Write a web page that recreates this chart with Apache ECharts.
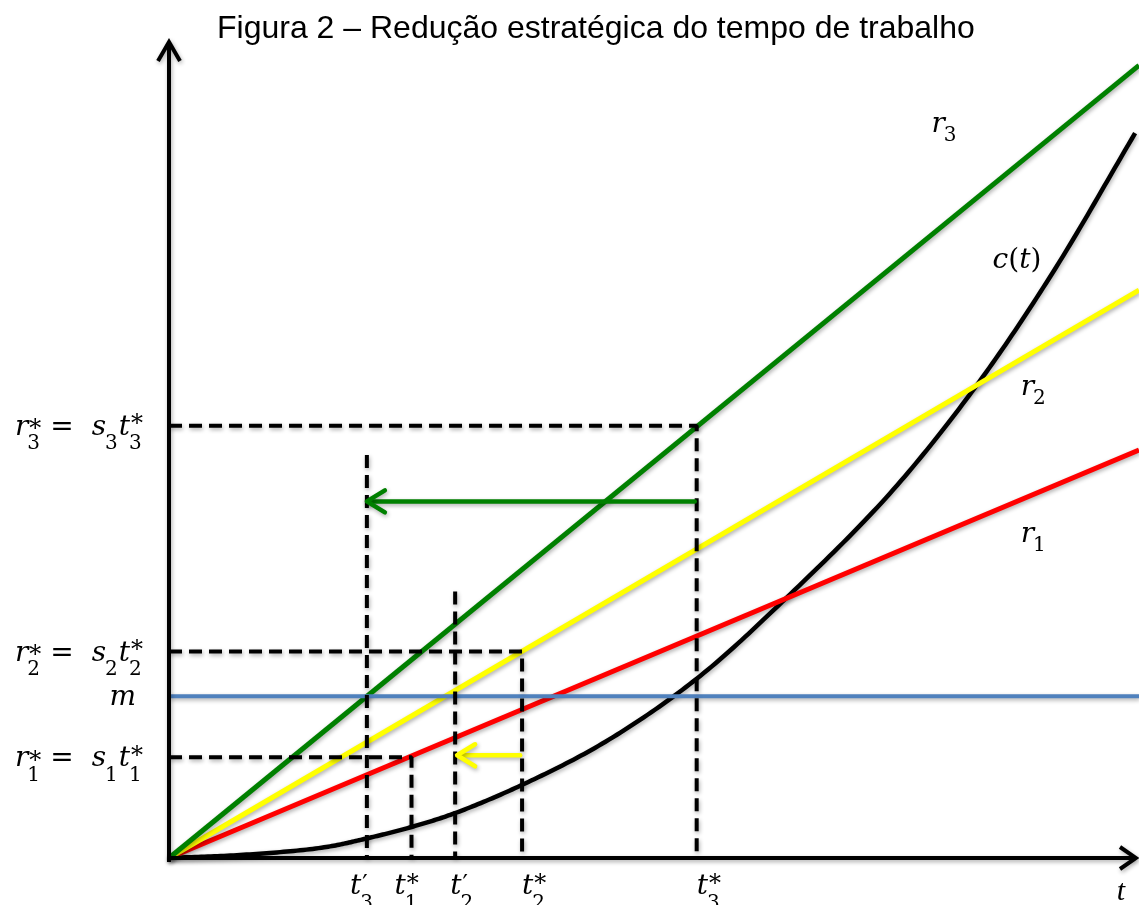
<!DOCTYPE html>
<html>
<head>
<meta charset="utf-8">
<title>Redução estratégica do tempo de trabalho</title>
<script src="https://cdn.jsdelivr.net/npm/echarts@6.0.0/dist/echarts.min.js"></script>
<style>
  html, body { margin: 0; padding: 0; background: #ffffff; }
  #chart { width: 1139px; height: 905px; }
</style>
</head>
<body>
<div id="chart"></div>
<script>
// ---------------------------------------------------------------------------
// Data: time t on the horizontal axis, value on the vertical axis
// ---------------------------------------------------------------------------
const T_MAX = 100;
const V_MAX = 83.9;

// revenue lines r_i = s_i t, value reached at t = T_MAX (r1, r2, r3)
const revenueEnd = [42.1, 58.6, 81.8];

// cost curve c(t)
const costT = [0, 8.0, 16.0, 20.3, 25.0, 29.4, 36.3, 45.0, 54.4, 63.6, 74.3, 83.2, 91.1, 99.6];
const costV = [0, 0.35, 1.1, 2.0, 3.2, 4.6, 7.5, 12.0, 18.5, 26.8, 37.6, 48.7, 60.4, 74.8];

// level m
const mLevel = 16.7;

// optimal times t*_i and revenues r*_i = s_i t*_i  (i = 1, 2, 3)
const tStar = [25.0, 36.4, 54.4];
const rStar = [10.4, 21.3, 44.6];

// reduced times t'_3, t'_2 and the top of their dashed guides
const tPrime = [20.4, 29.5];
const tPrimeTop = [41.6, 27.5];

// reduction arrows (green: t*_3 -> t'_3, yellow: t*_2 -> t'_2)
const arrowFrom = [54.2, 36.2];
const arrowTo = [20.4, 29.7];
const arrowLevel = [36.8, 10.6];

// ---------------------------------------------------------------------------
// Texts (math notation: _x subscript, ^x superscript)
// ---------------------------------------------------------------------------
const titleText = 'Figura 2 – Redução estratégica do tempo de trabalho';
const yLabels = ['r_3^* =  s_3t_3^*', 'r_2^* =  s_2t_2^*', 'm', 'r_1^* =  s_1t_1^*'];
const yLabelAt = [rStar[2], rStar[1], mLevel, rStar[0]];
const xLabels = ['t_3^′', 't_1^*', 't_2^′', 't_2^*', 't_3^*'];
const xLabelAt = [tPrime[0], tStar[0], tPrime[1], tStar[1], tStar[2]];
const curveLabels = ['r_3', 'c(t)', 'r_2', 'r_1'];
const axisTitleT = 't';

// ---------------------------------------------------------------------------
// Layout and style
// ---------------------------------------------------------------------------
const GREEN = '#008000', YELLOW = '#FFFF00', RED = '#FF0000', BLUE = '#4F81BD', BLACK = '#000000';
const SHADOW = { shadowColor: 'rgba(0,0,0,0.32)', shadowBlur: 4, shadowOffsetX: 1, shadowOffsetY: 2 };
const MATH_FAMILY = '"DejaVu Serif"';
const MATH_SIZE = 28;
const xLabelNudge = [-17, -17, -5, 0, 0];          // px, left edge relative to the guide
const curveLabelPos = [[78.6, 74.9], [84.9, 60.9], [87.8, 47.8], [87.8, 32.6]]; // label baselines

// --- text measuring for the math labels ---
const measureCtx = document.createElement('canvas').getContext('2d');
const baselineCache = {};
function fontString(size, italic, family) {
  return (italic ? 'italic ' : '') + size + 'px ' + family;
}
function measure(text, size, italic, family) {
  measureCtx.font = fontString(size, italic, family);
  measureCtx.textBaseline = 'alphabetic';
  return measureCtx.measureText(text);
}
// distance from the 'middle' baseline (used by zrender) down to the alphabetic one
function middleToAlphabetic(size, italic, family) {
  const key = fontString(size, italic, family);
  if (baselineCache[key] == null) {
    measureCtx.font = key;
    measureCtx.textBaseline = 'middle';
    const a = measureCtx.measureText('H').actualBoundingBoxDescent;
    measureCtx.textBaseline = 'alphabetic';
    const b = measureCtx.measureText('H').actualBoundingBoxDescent;
    baselineCache[key] = a - b;
  }
  return baselineCache[key];
}
function textEl(text, size, italic, family, x, baselineY) {
  return {
    type: 'text',
    x: x,
    y: baselineY - middleToAlphabetic(size, italic, family),
    silent: true,
    style: {
      text: text,
      fontSize: size,
      fontStyle: italic ? 'italic' : 'normal',
      fontFamily: family.replace(/"/g, ''),
      fill: BLACK,
      align: 'left',
      verticalAlign: 'middle'
    }
  };
}
function parseMath(src) {
  const atoms = [];
  for (let i = 0; i < src.length; i++) {
    const ch = src[i];
    if (ch === '_' || ch === '^') {
      atoms[atoms.length - 1][ch === '_' ? 'sub' : 'sup'] = src[++i];
    } else if (ch === ' ') {
      atoms.push({ gap: true });
    } else {
      atoms.push({ base: ch, italic: /[a-z]/.test(ch) });
    }
  }
  return atoms;
}
// builds a group of text pieces; (ax, baseY) is the anchor on the main baseline
function mathGroup(src, ax, baseY, align, opt) {
  opt = opt || {};
  const size = opt.size || MATH_SIZE;
  const family = opt.family || MATH_FAMILY;
  const subDrop = opt.subDrop != null ? opt.subDrop : size * 0.52;
  const scriptSize = Math.round(size * 0.72);
  const supSize = Math.round(size * 0.86);
  const pieces = [];
  let x = 0;
  parseMath(src).forEach(function (a) {
    if (a.gap) { x += size * 0.32; return; }
    const mb = measure(a.base, size, a.italic, family);
    pieces.push({ text: a.base, size: size, italic: a.italic, x: x, base: 0 });
    let sw = 0;
    if (a.sub) {
      const ms = measure(a.sub, scriptSize, false, family);
      pieces.push({ text: a.sub, size: scriptSize, italic: false, x: x + mb.width - (a.italic ? 1 : 0), base: subDrop });
      sw = Math.max(sw, ms.width);
    }
    if (a.sup) {
      const mp = measure(a.sup, supSize, false, family);
      // superscript centred a little below the top of its base glyph
      const centre = -mb.actualBoundingBoxAscent + (a.sup === '*' ? 4.5 : 2);
      const glyphMid = (mp.actualBoundingBoxDescent - mp.actualBoundingBoxAscent) / 2;
      const gx = x + mb.width + (a.italic ? 1 : 0) - (mp.actualBoundingBoxLeft > 0 ? 0 : -mp.actualBoundingBoxLeft);
      pieces.push({ text: a.sup, size: supSize, italic: false, x: gx, base: centre - glyphMid });
      sw = Math.max(sw, mp.actualBoundingBoxRight + (a.italic ? 1 : 0));
    }
    x += mb.width + sw;
  });
  const width = x;
  const x0 = align === 'right' ? ax - width : (align === 'center' ? ax - width / 2 : ax);
  return {
    type: 'group',
    silent: true,
    children: pieces.map(function (p) {
      return textEl(p.text, p.size, p.italic, family, x0 + p.x, baseY + p.base);
    })
  };
}

// centripetal Catmull-Rom spline through pixel points
function catmullRom(pts, steps) {
  const out = [pts[0]];
  const P = [pts[0]].concat(pts, [pts[pts.length - 1]]);
  P[0] = [2 * pts[0][0] - pts[1][0], 2 * pts[0][1] - pts[1][1]];
  const n = pts.length;
  P[n + 1] = [2 * pts[n - 1][0] - pts[n - 2][0], 2 * pts[n - 1][1] - pts[n - 2][1]];
  function tj(ti, a, b) { return ti + Math.pow(Math.hypot(b[0] - a[0], b[1] - a[1]), 0.5); }
  for (let i = 1; i < n; i++) {
    const p0 = P[i - 1], p1 = P[i], p2 = P[i + 1], p3 = P[i + 2];
    const t0 = 0, t1 = tj(t0, p0, p1), t2 = tj(t1, p1, p2), t3 = tj(t2, p2, p3);
    for (let s = 1; s <= steps; s++) {
      const t = t1 + (t2 - t1) * s / steps;
      const pt = [0, 1].map(function (k) {
        const a1 = (t1 - t) / (t1 - t0) * p0[k] + (t - t0) / (t1 - t0) * p1[k];
        const a2 = (t2 - t) / (t2 - t1) * p1[k] + (t - t1) / (t2 - t1) * p2[k];
        const a3 = (t3 - t) / (t3 - t2) * p2[k] + (t - t2) / (t3 - t2) * p3[k];
        const b1 = (t2 - t) / (t2 - t0) * a1 + (t - t0) / (t2 - t0) * a2;
        const b2 = (t3 - t) / (t3 - t1) * a2 + (t - t1) / (t3 - t1) * a3;
        return (t2 - t) / (t2 - t1) * b1 + (t - t1) / (t2 - t1) * b2;
      });
      out.push(pt);
    }
  }
  return out;
}

// --- series ---
const series = [];

// cost curve c(t), drawn as a spline through the points
series.push({
  type: 'custom',
  coordinateSystem: 'cartesian2d',
  clip: false,
  silent: true,
  z: 2,
  data: [[0, 0]],
  renderItem: function (params, api) {
    const pts = costT.map(function (t, i) { return api.coord([t, costV[i]]); });
    return {
      type: 'polyline',
      shape: { points: catmullRom(pts, 24) },
      style: Object.assign({ stroke: BLACK, lineWidth: 4.5, fill: null, lineJoin: 'round' }, SHADOW)
    };
  }
});

// revenue lines r1, r2, r3
[RED, YELLOW, GREEN].forEach(function (c, i) {
  series.push({
    type: 'line',
    data: [[0, 0], [T_MAX, revenueEnd[i]]],
    symbol: 'none',
    clip: false,
    silent: true,
    z: 3,
    lineStyle: Object.assign({ color: c, width: 5 }, SHADOW)
  });
});

// level m
series.push({
  type: 'line',
  data: [[0, mLevel], [T_MAX, mLevel]],
  symbol: 'none',
  clip: false,
  silent: true,
  z: 4,
  lineStyle: Object.assign({ color: BLUE, width: 4 }, SHADOW)
});

// dashed guides r*_i -> t*_i
tStar.forEach(function (t, i) {
  series.push({
    type: 'line',
    data: [[0, rStar[i]], [t, rStar[i]], [t, 0]],
    symbol: 'none',
    clip: false,
    silent: true,
    z: 5,
    lineStyle: Object.assign({ color: BLACK, width: 4, type: [13, 7] }, SHADOW)
  });
});
// dashed guides at t'_3, t'_2
tPrime.forEach(function (t, i) {
  series.push({
    type: 'line',
    data: [[t, tPrimeTop[i]], [t, 0]],
    symbol: 'none',
    clip: false,
    silent: true,
    z: 5,
    lineStyle: Object.assign({ color: BLACK, width: 4, type: [13, 7] }, SHADOW)
  });
});

// reduction arrows
series.push({
  type: 'custom',
  coordinateSystem: 'cartesian2d',
  clip: false,
  silent: true,
  z: 6,
  data: arrowFrom.map(function (f, i) { return [f, arrowLevel[i], arrowTo[i], i]; }),
  renderItem: function (params, api) {
    const from = api.coord([api.value(0), api.value(1)]);
    const tip = api.coord([api.value(2), api.value(1)]);
    const color = [GREEN, YELLOW][api.value(3)];
    const dir = tip[0] < from[0] ? 1 : -1;
    const back = 18, half = 11;
    const st = Object.assign({ stroke: color, lineWidth: 4.5, fill: null, lineCap: 'round', lineJoin: 'round' }, SHADOW);
    return {
      type: 'group',
      children: [
        { type: 'line', shape: { x1: from[0], y1: from[1], x2: tip[0] + dir * 2, y2: tip[1] }, style: st },
        { type: 'polyline', shape: { points: [[tip[0] + dir * back, tip[1] - half], [tip[0], tip[1]], [tip[0] + dir * back, tip[1] + half]] }, style: st }
      ]
    };
  }
});

// axes with open arrow heads
series.push({
  type: 'custom',
  coordinateSystem: 'cartesian2d',
  clip: false,
  silent: true,
  z: 7,
  data: [[0, 0]],
  renderItem: function (params, api) {
    const o = api.coord([0, 0]);
    const xe = api.coord([T_MAX, 0]);
    const ye = api.coord([0, V_MAX]);
    const st = Object.assign({ stroke: BLACK, lineWidth: 4, fill: null, lineCap: 'butt', lineJoin: 'miter' }, SHADOW);
    const xTip = xe[0] - 3, yTip = ye[1] - 3;
    return {
      type: 'group',
      children: [
        { type: 'line', shape: { x1: o[0] - 2, y1: o[1], x2: xTip - 2, y2: o[1] }, style: st },
        { type: 'polyline', shape: { points: [[xTip - 16, o[1] - 11], [xTip, o[1]], [xTip - 16, o[1] + 11]] }, style: st },
        { type: 'line', shape: { x1: o[0], y1: o[1] + 4, x2: o[0], y2: yTip + 2 }, style: st },
        { type: 'polyline', shape: { points: [[o[0] - 11, yTip + 19], [o[0], yTip], [o[0] + 11, yTip + 19]] }, style: st }
      ]
    };
  }
});

// value labels on the vertical axis
series.push({
  type: 'custom',
  coordinateSystem: 'cartesian2d',
  clip: false,
  silent: true,
  z: 8,
  data: yLabelAt.map(function (v) { return [0, v]; }),
  renderItem: function (params, api) {
    const p = api.coord([0, api.value(1)]);
    const right = params.dataIndex === 2 ? p[0] - 33 : p[0] - 26;
    return mathGroup(yLabels[params.dataIndex], right, p[1] + 9, 'right');
  }
});

// time labels on the horizontal axis
series.push({
  type: 'custom',
  coordinateSystem: 'cartesian2d',
  clip: false,
  silent: true,
  z: 8,
  data: xLabelAt.map(function (t) { return [t, 0]; }),
  renderItem: function (params, api) {
    const p = api.coord([api.value(0), 0]);
    return mathGroup(xLabels[params.dataIndex], p[0] + xLabelNudge[params.dataIndex], p[1] + 36, 'left');
  }
});

// curve names and the axis name t
series.push({
  type: 'custom',
  coordinateSystem: 'cartesian2d',
  clip: false,
  silent: true,
  z: 8,
  data: curveLabelPos.concat([[97.7, -4.3]]),
  renderItem: function (params, api) {
    const p = api.coord([api.value(0), api.value(1)]);
    if (params.dataIndex < curveLabels.length) {
      return mathGroup(curveLabels[params.dataIndex], p[0], p[1], 'left', { subDrop: 9 });
    }
    return mathGroup(axisTitleT, p[0], p[1], 'left', { size: 30, family: '"Liberation Serif"' });
  }
});

const chart = echarts.init(document.getElementById('chart'), null, { renderer: 'canvas' });
chart.setOption({
  backgroundColor: '#ffffff',
  animation: false,
  title: {
    text: titleText,
    left: 212,
    top: 8,
    textStyle: { fontFamily: 'Liberation Sans', fontSize: 32, fontWeight: 'normal', color: BLACK }
  },
  grid: { left: 169, right: 0, top: 45, bottom: 47 },
  xAxis: { type: 'value', min: 0, max: T_MAX, show: false },
  yAxis: { type: 'value', min: 0, max: V_MAX, show: false },
  series: series
});
</script>
</body>
</html>
